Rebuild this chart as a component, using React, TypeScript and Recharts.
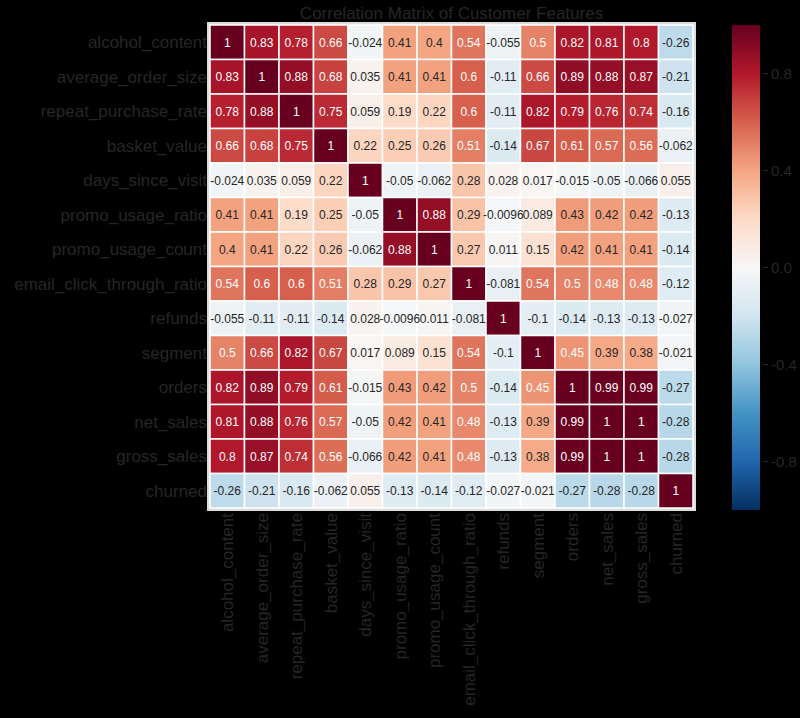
import { Bar, BarChart, Scatter, ScatterChart, XAxis, YAxis } from "recharts";

const features = [
  "alcohol_content",
  "average_order_size",
  "repeat_purchase_rate",
  "basket_value",
  "days_since_visit",
  "promo_usage_ratio",
  "promo_usage_count",
  "email_click_through_ratio",
  "refunds",
  "segment",
  "orders",
  "net_sales",
  "gross_sales",
  "churned",
];

const rowAlcohol = [1, 0.83, 0.78, 0.66, -0.024, 0.41, 0.4, 0.54, -0.055, 0.5, 0.82, 0.81, 0.8, -0.26];
const rowOrderSize = [0.83, 1, 0.88, 0.68, 0.035, 0.41, 0.41, 0.6, -0.11, 0.66, 0.89, 0.88, 0.87, -0.21];
const rowRepeat = [0.78, 0.88, 1, 0.75, 0.059, 0.19, 0.22, 0.6, -0.11, 0.82, 0.79, 0.76, 0.74, -0.16];
const rowBasket = [0.66, 0.68, 0.75, 1, 0.22, 0.25, 0.26, 0.51, -0.14, 0.67, 0.61, 0.57, 0.56, -0.062];
const rowDays = [-0.024, 0.035, 0.059, 0.22, 1, -0.05, -0.062, 0.28, 0.028, 0.017, -0.015, -0.05, -0.066, 0.055];
const rowPromoRatio = [0.41, 0.41, 0.19, 0.25, -0.05, 1, 0.88, 0.29, -0.0096, 0.089, 0.43, 0.42, 0.42, -0.13];
const rowPromoCount = [0.4, 0.41, 0.22, 0.26, -0.062, 0.88, 1, 0.27, 0.011, 0.15, 0.42, 0.41, 0.41, -0.14];
const rowEmail = [0.54, 0.6, 0.6, 0.51, 0.28, 0.29, 0.27, 1, -0.081, 0.54, 0.5, 0.48, 0.48, -0.12];
const rowRefunds = [-0.055, -0.11, -0.11, -0.14, 0.028, -0.0096, 0.011, -0.081, 1, -0.1, -0.14, -0.13, -0.13, -0.027];
const rowSegment = [0.5, 0.66, 0.82, 0.67, 0.017, 0.089, 0.15, 0.54, -0.1, 1, 0.45, 0.39, 0.38, -0.021];
const rowOrders = [0.82, 0.89, 0.79, 0.61, -0.015, 0.43, 0.42, 0.5, -0.14, 0.45, 1, 0.99, 0.99, -0.27];
const rowNetSales = [0.81, 0.88, 0.76, 0.57, -0.05, 0.42, 0.41, 0.48, -0.13, 0.39, 0.99, 1, 1, -0.28];
const rowGrossSales = [0.8, 0.87, 0.74, 0.56, -0.066, 0.42, 0.41, 0.48, -0.13, 0.38, 0.99, 1, 1, -0.28];
const rowChurned = [-0.26, -0.21, -0.16, -0.062, 0.055, -0.13, -0.14, -0.12, -0.027, -0.021, -0.27, -0.28, -0.28, 1];

const title = "Correlation Matrix of Customer Features";
const colorbarTicks = [-0.8, -0.4, 0, 0.4, 0.8];

// RdBu reversed, low -> high
const rdbuR = ["#053061", "#2166ac", "#4393c3", "#92c5de", "#d1e5f0", "#f7f7f7", "#fddbc7", "#f4a582", "#d6604d", "#b2182b", "#67001f"];

const matrix = [
  rowAlcohol, rowOrderSize, rowRepeat, rowBasket, rowDays, rowPromoRatio, rowPromoCount,
  rowEmail, rowRefunds, rowSegment, rowOrders, rowNetSales, rowGrossSales, rowChurned,
];

const n = features.length;
const cells = matrix.flatMap((row, i) => row.map((v, j) => ({ x: j + 0.5, y: i + 0.5, v })));
const centers = features.map((_, i) => i + 0.5);

const PLOT = 483;
const CELL = PLOT / n;
const FONT = "'Liberation Sans', Arial, sans-serif";
const INK = "#262626";

function hexToRgb(h: string) {
  return [1, 3, 5].map((k) => parseInt(h.slice(k, k + 2), 16));
}

function rgbFor(v: number) {
  const t = Math.max(0, Math.min(1, (v + 1) / 2)) * (rdbuR.length - 1);
  const i = Math.min(Math.floor(t), rdbuR.length - 2);
  const f = t - i;
  const a = hexToRgb(rdbuR[i]);
  const b = hexToRgb(rdbuR[i + 1]);
  return a.map((x, k) => x + (b[k] - x) * f);
}

function colorFor(v: number) {
  const c = rgbFor(v).map(Math.round);
  return `rgb(${c[0]},${c[1]},${c[2]})`;
}

function textColorFor(v: number) {
  const lin = rgbFor(v).map((x) => {
    const c = x / 255;
    return c <= 0.03928 ? c / 12.92 : Math.pow((c + 0.055) / 1.055, 2.4);
  });
  const lum = 0.2126 * lin[0] + 0.7152 * lin[1] + 0.0722 * lin[2];
  return lum > 0.408 ? INK : "#ffffff";
}

const fmt = (v: number) => String(Number(v.toPrecision(2)));

function HeatCell(props: any) {
  const { cx, cy, payload } = props;
  return (
    <rect x={cx - CELL / 2} y={cy - CELL / 2} width={CELL} height={CELL} fill={colorFor(payload.v)} stroke="#ffffff" strokeWidth={1.5} />
  );
}

function HeatLabel(props: any) {
  const { cx, cy, payload } = props;
  return (
    <text x={cx} y={cy} dy="0.36em" textAnchor="middle" fontSize={12} fontFamily={FONT} fill={textColorFor(payload.v)}>
      {fmt(payload.v)}
    </text>
  );
}

function XTick(props: any) {
  const { x, y, payload } = props;
  const ty = y - 3;
  return (
    <text x={x} y={ty} dy="0.36em" transform={`rotate(-90, ${x}, ${ty})`} textAnchor="end" fontSize={17} fontFamily={FONT} fill={INK}>
      {features[Math.floor(payload.value)]}
    </text>
  );
}

function YTick(props: any) {
  const { x, y, payload } = props;
  return (
    <text x={x + 5} y={y} dy="0.36em" textAnchor="end" fontSize={17} fontFamily={FONT} fill={INK}>
      {features[Math.floor(payload.value)]}
    </text>
  );
}

function BarTick(props: any) {
  const { x, y, payload } = props;
  return (
    <g>
      <line x1={x - 5} x2={x} y1={y} y2={y} stroke={INK} />
      <text x={x + 3} y={y} dy="0.36em" fontSize={15} fontFamily={FONT} fill={INK}>
        {Number(payload.value).toFixed(1)}
      </text>
    </g>
  );
}

export default function App() {
  return (
    <div style={{ position: "relative", width: 800, height: 718, background: "#000", overflow: "hidden" }}>
      <style>{`body{margin:0;background:#000}`}</style>
      <div
        style={{
          position: "absolute", left: 210, width: PLOT, top: 4, textAlign: "center",
          fontSize: 17, fontFamily: FONT, color: INK,
        }}
      >
        {title}
      </div>
      <div style={{ position: "absolute", left: 207, top: 22, width: PLOT + 6, height: PLOT + 6, background: "#dcdcdc" }} />
      <div style={{ position: "absolute", left: 0, top: 0 }}>
        <ScatterChart width={800} height={718} margin={{ top: 25, right: 107, bottom: 10, left: 10 }}>
          <XAxis
            type="number" dataKey="x" domain={[0, n]} ticks={centers} interval={0}
            height={200} axisLine={false} tickLine={false} tick={<XTick />}
          />
          <YAxis
            type="number" dataKey="y" domain={[0, n]} ticks={centers} interval={0} reversed
            width={200} axisLine={false} tickLine={false} tick={<YTick />}
          />
          <Scatter data={cells} shape={<HeatCell />} isAnimationActive={false} />
          <Scatter data={cells} shape={<HeatLabel />} isAnimationActive={false} />
        </ScatterChart>
      </div>
      <div style={{ position: "absolute", left: 700, top: 0 }}>
        <BarChart
          width={100} height={535} data={[{ k: "cb", range: [-1, 1] }]}
          margin={{ top: 25, bottom: 25, left: 32, right: 0 }} barCategoryGap={0}
        >
          <defs>
            <linearGradient id="cbGrad" x1="0" y1="1" x2="0" y2="0">
              {rdbuR.map((c, i) => (
                <stop key={i} offset={`${(i / (rdbuR.length - 1)) * 100}%`} stopColor={c} />
              ))}
            </linearGradient>
          </defs>
          <XAxis dataKey="k" type="category" hide />
          <YAxis
            orientation="right" type="number" domain={[-1, 1]} allowDataOverflow ticks={colorbarTicks}
            interval={0} width={40} axisLine={false} tickLine={false} tick={<BarTick />}
          />
          <Bar dataKey="range" fill="url(#cbGrad)" isAnimationActive={false} />
        </BarChart>
      </div>
    </div>
  );
}
